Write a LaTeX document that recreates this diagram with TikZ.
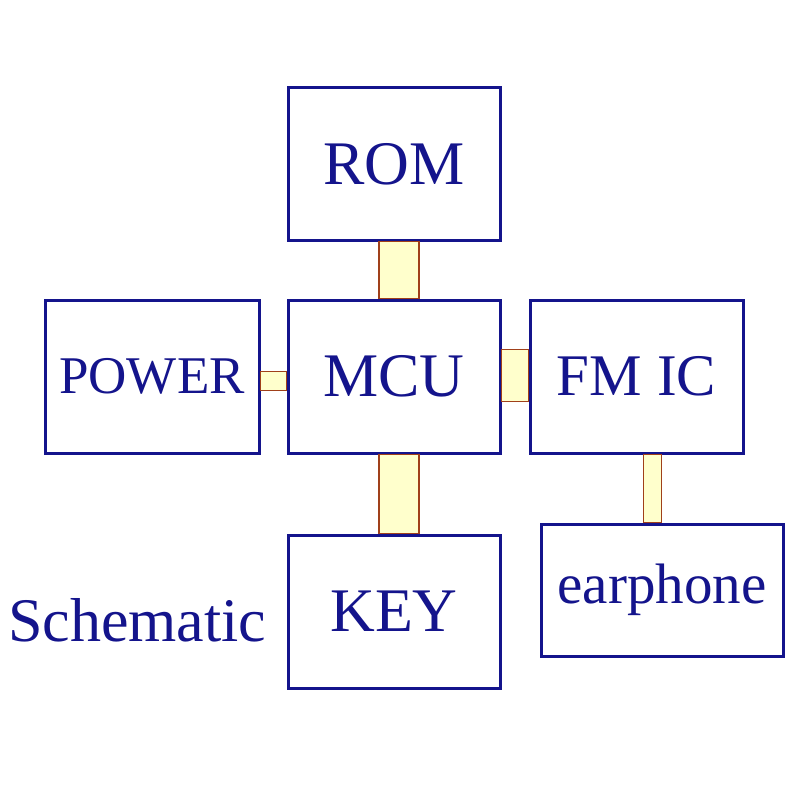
\documentclass[tikz,border=0pt]{standalone}
\usepackage{fontspec}
\setmainfont{Liberation Serif}
\usetikzlibrary{calc}
\definecolor{navy}{HTML}{14148C}
\definecolor{linkfill}{HTML}{FFFFCC}
\definecolor{linkdraw}{HTML}{A0401A}
\begin{document}
\begin{tikzpicture}[x=1pt,y=-1pt,
  blk/.style={draw=navy,line width=3pt,fill=white,text=navy,inner sep=0pt,font=\fontsize{62}{62}\selectfont},
  link/.style={draw=linkdraw,line width=1.8pt,fill=linkfill}]
\useasboundingbox (0,0) rectangle (800,805);
\node[blk,minimum width=212,minimum height=152] (rom) at (394,164) {ROM};
\node[blk,minimum width=212,minimum height=153] (mcu) at (394,376.5) {MCU};
\node[blk,minimum width=214,minimum height=153,font=\fontsize{53}{53}\selectfont] (pow) at (152,376.5) {POWER};
\node[blk,minimum width=213,minimum height=153,font=\fontsize{59}{59}\selectfont] (fm) at (636.5,376.5) {FM IC};
\node[blk,minimum width=212,minimum height=153] (key) at (394,611.5) {KEY};
\node[blk,minimum width=242,minimum height=132,font=\fontsize{57}{57}\selectfont] (ear) at (662,590) {earphone};
\node[text=navy,font=\fontsize{62}{62}\selectfont,anchor=west,inner sep=0pt] (sch) at (8,620) {Schematic};
\draw[link] ($(rom.south)+(-15,0)$) rectangle ($(mcu.north)+(25,0)$);
\draw[link] ($(mcu.south)+(-15,0)$) rectangle ($(key.north)+(25,0)$);
\draw[link] ($(pow.east)+(0,-5)$) rectangle ($(mcu.west)+(0,14)$);
\draw[link] ($(mcu.east)+(0,-27)$) rectangle ($(fm.west)+(0,25)$);
\draw[link] ($(fm.south)+(7,0)$) rectangle ($(fm.south |- ear.north)+(25,0)$);
\end{tikzpicture}
\end{document}
